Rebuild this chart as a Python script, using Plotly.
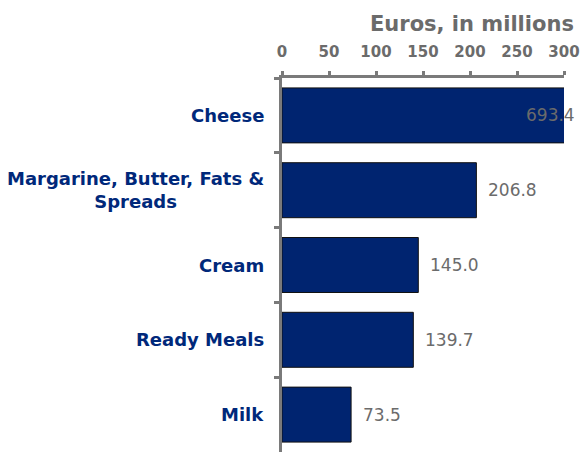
import plotly.graph_objects as go

categories = ["Cheese", "Margarine, Butter, Fats &<br>Spreads", "Cream", "Ready Meals", "Milk"]
values = [693.4, 206.8, 145.0, 139.7, 73.5]
tick_vals = [0, 50, 100, 150, 200, 250, 300]
axis_title = "Euros, in millions"
x_max = 300

BAR = "#002470"
TXT_BLUE = "#00287a"
GRAY = "#6b6b6b"
AXIS = "#7a7a7a"
FONT = "DejaVu Sans"

fig = go.Figure()
fig.add_trace(go.Bar(
    y=categories, x=values, orientation="h",
    marker=dict(color=BAR, line=dict(color="#111111", width=1)),
    hoverinfo="skip",
))

annotations = []
for c, v in zip(categories, values):
    if v > x_max:
        annotations.append(dict(x=x_max, y=c, xref="x", yref="y", text=f"{v:.1f}",
                                showarrow=False, xanchor="right", xshift=13,
                                font=dict(family=FONT, size=17, color=GRAY)))
    else:
        annotations.append(dict(x=v, y=c, xref="x", yref="y", text=f"{v:.1f}",
                                showarrow=False, xanchor="left", xshift=10,
                                font=dict(family=FONT, size=17, color=GRAY)))
    annotations.append(dict(x=0, y=c, xref="paper", yref="y", text=f"<b>{c}</b>",
                            showarrow=False, xanchor="right", xshift=-16, align="center",
                            font=dict(family=FONT, size=18, color=TXT_BLUE)))
annotations.append(dict(x=1, y=1, xref="paper", yref="paper", text=f"<b>{axis_title}</b>",
                        showarrow=False, xanchor="right", yanchor="middle", xshift=12, yshift=54,
                        font=dict(family=FONT, size=21, color=GRAY)))

fig.update_layout(
    width=580, height=452,
    margin=dict(l=282, r=16, t=78, b=0),
    paper_bgcolor="white", plot_bgcolor="white",
    bargap=0.265,
    showlegend=False,
    annotations=annotations,
    xaxis=dict(
        side="top", range=[0, x_max], tickvals=tick_vals,
        ticktext=[f"<b>{t}</b>" for t in tick_vals],
        showgrid=False, zeroline=False,
        showline=True, linecolor=AXIS, linewidth=3,
        ticks="outside", ticklen=4, tickwidth=3, tickcolor=AXIS,
        tickfont=dict(family=FONT, size=15, color=GRAY),
        ticklabelstandoff=8,
        fixedrange=True,
    ),
    yaxis=dict(
        autorange="reversed", showticklabels=False,
        showgrid=False, zeroline=False,
        showline=True, linecolor=AXIS, linewidth=3,
        ticks="outside", tickson="boundaries", ticklen=5, tickwidth=3, tickcolor=AXIS,
        fixedrange=True,
    ),
)

fig.write_html("out.html", config={"displayModeBar": False})
